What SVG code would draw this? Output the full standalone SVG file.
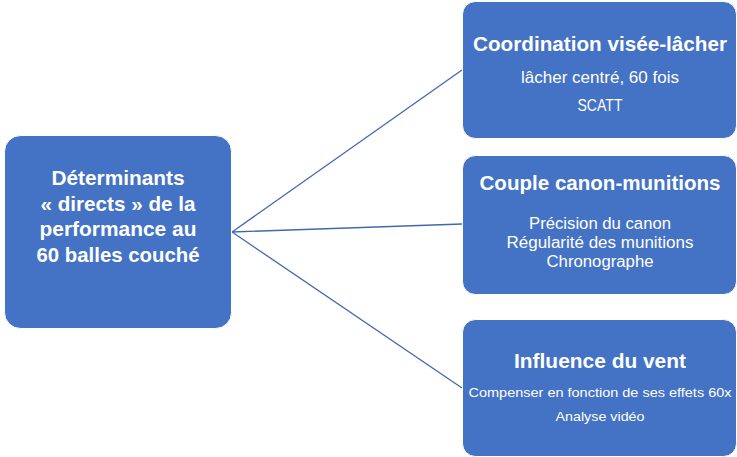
<svg xmlns="http://www.w3.org/2000/svg" width="737" height="457" viewBox="0 0 737 457">
<style>
.box{fill:#4472C4;stroke:#ffffff;stroke-width:1}
.t{font-family:"Liberation Sans",Arial,sans-serif;fill:#ffffff;text-anchor:middle}
.b{font-weight:bold}
.conn{stroke:#4068B0;stroke-width:1.3;fill:none}
</style>
<rect width="737" height="457" fill="#ffffff"/>
<g id="connectors">
<line class="conn" x1="232" y1="232" x2="462" y2="70"/>
<line class="conn" x1="232" y1="232" x2="462" y2="224"/>
<line class="conn" x1="232" y1="232" x2="462" y2="388"/>
</g>
<g id="root">
<rect class="box" x="4.5" y="135.5" width="227" height="193" rx="16"/>
<text class="t b" font-size="20.5" x="118" y="185" textLength="133" lengthAdjust="spacingAndGlyphs">Déterminants</text>
<text class="t b" font-size="20.5" x="118" y="211" textLength="155" lengthAdjust="spacingAndGlyphs">« directs » de la</text>
<text class="t b" font-size="20.5" x="118" y="236" textLength="157" lengthAdjust="spacingAndGlyphs">performance au</text>
<text class="t b" font-size="20.5" x="118" y="262" textLength="163" lengthAdjust="spacingAndGlyphs">60 balles couché</text>
</g>
<g id="n1">
<rect class="box" x="462.5" y="1.5" width="274" height="137" rx="13"/>
<text class="t b" font-size="20.5" x="600" y="51" textLength="254" lengthAdjust="spacingAndGlyphs">Coordination visée-lâcher</text>
<text class="t" font-size="16.5" x="600" y="83" textLength="158" lengthAdjust="spacingAndGlyphs">lâcher centré, 60 fois</text>
<text class="t" font-size="16.5" x="600" y="111" textLength="45" lengthAdjust="spacingAndGlyphs">SCATT</text>
</g>
<g id="n2">
<rect class="box" x="462.5" y="155.5" width="274" height="139" rx="13"/>
<text class="t b" font-size="20.5" x="600" y="190" textLength="241" lengthAdjust="spacingAndGlyphs">Couple canon-munitions</text>
<text class="t" font-size="16" x="600" y="229" textLength="142" lengthAdjust="spacingAndGlyphs">Précision du canon</text>
<text class="t" font-size="16" x="600" y="248" textLength="187" lengthAdjust="spacingAndGlyphs">Régularité des munitions</text>
<text class="t" font-size="16" x="600" y="267" textLength="107" lengthAdjust="spacingAndGlyphs">Chronographe</text>
</g>
<g id="n3">
<rect class="box" x="462.5" y="319.5" width="274" height="137" rx="13"/>
<text class="t b" font-size="20.5" x="600" y="368" textLength="172" lengthAdjust="spacingAndGlyphs">Influence du vent</text>
<text class="t" font-size="13.5" x="600" y="397" textLength="263" lengthAdjust="spacingAndGlyphs">Compenser en fonction de ses effets 60x</text>
<text class="t" font-size="13.5" x="600" y="421" textLength="89" lengthAdjust="spacingAndGlyphs">Analyse vidéo</text>
</g>
</svg>
